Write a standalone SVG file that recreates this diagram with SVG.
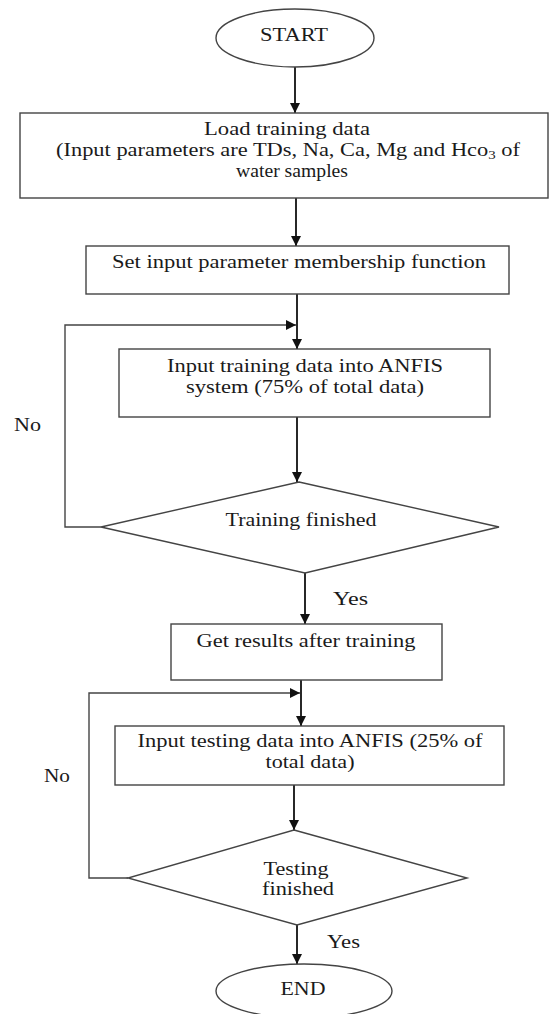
<svg xmlns="http://www.w3.org/2000/svg" width="550" height="1014" viewBox="0 0 550 1014">
<defs>
<marker id="ah" viewBox="0 0 10 10" refX="10" refY="5" markerWidth="10" markerHeight="10" markerUnits="userSpaceOnUse" orient="auto">
<path d="M0,0 L10,5 L0,10 z" fill="#111"/>
</marker>
<style>
.shape{fill:#fff;stroke:#444;stroke-width:1.4}
.t{font-family:"Liberation Serif","Times New Roman",serif;font-size:18px;fill:#1a1a1a;text-anchor:middle}
.big{font-size:19px}
.lbl{font-family:"Liberation Serif","Times New Roman",serif;font-size:18px;fill:#1a1a1a}
.c{fill:none;stroke:#111;stroke-width:1.8}
.f{fill:none;stroke:#444;stroke-width:1.4}
</style>
</defs>
<rect width="550" height="1014" fill="#fff"/>
<g id="connectors">
<line class="c" x1="295" y1="67" x2="295" y2="113" marker-end="url(#ah)"/>
<line class="c" x1="296" y1="198" x2="296" y2="246" marker-end="url(#ah)"/>
<line class="c" x1="297" y1="294" x2="297" y2="349" marker-end="url(#ah)"/>
<polyline class="f" points="101,527 65,527 65,325 296,325" marker-end="url(#ah)"/>
<line class="c" x1="297" y1="417" x2="297" y2="482" marker-end="url(#ah)"/>
<line class="c" x1="305" y1="573" x2="305" y2="624" marker-end="url(#ah)"/>
<line class="c" x1="301" y1="680" x2="301" y2="726" marker-end="url(#ah)"/>
<polyline class="f" points="128,878 89,878 89,693 300,693" marker-end="url(#ah)"/>
<line class="c" x1="294" y1="785" x2="294" y2="830" marker-end="url(#ah)"/>
<line class="c" x1="297" y1="925" x2="297" y2="964" marker-end="url(#ah)"/>
<text class="lbl" x="14" y="431" textLength="27" lengthAdjust="spacingAndGlyphs">No</text>
<text class="lbl" x="333" y="605" textLength="35" lengthAdjust="spacingAndGlyphs">Yes</text>
<text class="lbl" x="44" y="782" textLength="26" lengthAdjust="spacingAndGlyphs">No</text>
<text class="lbl" x="327" y="948" textLength="33" lengthAdjust="spacingAndGlyphs">Yes</text>
</g>
<g id="start">
<ellipse class="shape" cx="295" cy="38" rx="79" ry="29"/>
<text class="t big" x="294" y="41" textLength="68" lengthAdjust="spacingAndGlyphs">START</text>
</g>
<g id="load">
<rect class="shape" x="20" y="113" width="528" height="85"/>
<text class="t" x="287" y="135" textLength="166" lengthAdjust="spacingAndGlyphs">Load training data</text>
<text class="t" x="288" y="156" textLength="464" lengthAdjust="spacingAndGlyphs">(Input parameters are TDs, Na, Ca, Mg and Hco<tspan font-size="12" dy="3">3</tspan><tspan dy="-3"> of</tspan></text>
<text class="t" x="292" y="177" textLength="112" lengthAdjust="spacingAndGlyphs">water samples</text>
</g>
<g id="setmf">
<rect class="shape" x="86" y="246" width="423" height="48"/>
<text class="t" x="299" y="268" textLength="374" lengthAdjust="spacingAndGlyphs">Set input parameter membership function</text>
</g>
<g id="train">
<rect class="shape" x="119" y="349" width="371" height="68"/>
<text class="t" x="305" y="372" textLength="276" lengthAdjust="spacingAndGlyphs">Input training data into ANFIS</text>
<text class="t" x="305" y="393" textLength="238" lengthAdjust="spacingAndGlyphs">system (75% of total data)</text>
</g>
<g id="trainq">
<polygon class="shape" points="299,482 499,527 305,573 101,527"/>
<text class="t" x="301" y="526" textLength="151" lengthAdjust="spacingAndGlyphs">Training finished</text>
</g>
<g id="results">
<rect class="shape" x="171" y="624" width="271" height="56"/>
<text class="t" x="306" y="647" textLength="219" lengthAdjust="spacingAndGlyphs">Get results after training</text>
</g>
<g id="test">
<rect class="shape" x="115" y="726" width="389" height="59"/>
<text class="t" x="310" y="747" textLength="345" lengthAdjust="spacingAndGlyphs">Input testing data into ANFIS (25% of</text>
<text class="t" x="310" y="768" textLength="89" lengthAdjust="spacingAndGlyphs">total data)</text>
</g>
<g id="testq">
<polygon class="shape" points="294,830 467,878 297,925 128,878"/>
<text class="t" x="296" y="875" textLength="65" lengthAdjust="spacingAndGlyphs">Testing</text>
<text class="t" x="298" y="895" textLength="72" lengthAdjust="spacingAndGlyphs">finished</text>
</g>
<g id="end">
<ellipse class="shape" cx="304" cy="991" rx="88" ry="27"/>
<text class="t big" x="303" y="995" textLength="45" lengthAdjust="spacingAndGlyphs">END</text>
</g>
</svg>
